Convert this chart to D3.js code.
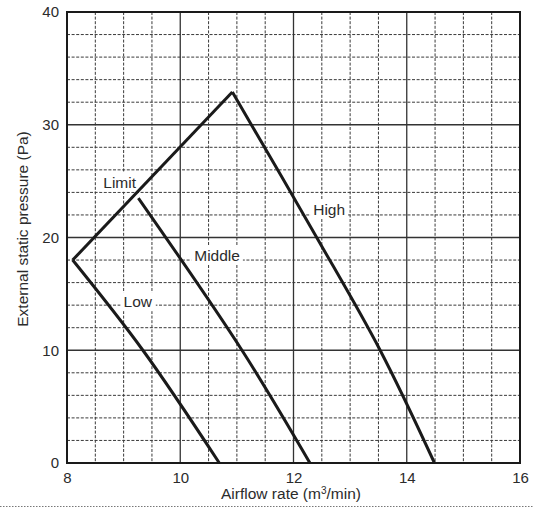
<!DOCTYPE html>
<html>
<head>
<meta charset="utf-8">
<script src="https://cdn.jsdelivr.net/npm/d3@7/dist/d3.min.js"></script>
<style>
  body { margin: 0; background: #fff; }
  text { font-family: "Liberation Sans", Arial, sans-serif; fill: #2b2b2b; }
</style>
</head>
<body>
<div id="chart"></div>
<script>
// tick values
var xTicks = [8, 10, 12, 14, 16];
var yTicks = [0, 10, 20, 30, 40];
var xMinor = [8.5, 9, 9.5, 10.5, 11, 11.5, 12.5, 13, 13.5, 14.5, 15, 15.5];
var yMinor = [2, 4, 6, 8, 12, 14, 16, 18, 22, 24, 26, 28, 32, 34, 36, 38];

// fan curves [airflow, pressure]
var limitLine = [[8.1, 18], [10.92, 32.9]];
var highLine = [[10.92, 32.9], [12.41, 20], [13.53, 10], [14.49, 0]];
var middleLine = [[9.26, 23.5], [11.09, 10], [12.29, 0]];
var lowLine = [[8.1, 18], [9.34, 10], [10.69, 0]];

// curve labels [text, airflow, pressure]
var labels = [
    ["Limit", 8.93, 24.9],
    ["Middle", 10.65, 18.4],
    ["Low", 9.25, 14.3],
    ["High", 12.63, 22.5]
];

var W = 533, H = 508;
var pL = 67, pT = 12, pR = 520, pB = 463;

var svg = d3.select("#chart").append("svg")
    .attr("width", W)
    .attr("height", H);

var x = d3.scaleLinear().domain([8, 16]).range([pL, pR]);
var y = d3.scaleLinear().domain([0, 40]).range([pB, pT]);

// minor grid (dashed)
svg.append("g").selectAll("line")
    .data(xMinor)
    .enter().append("line")
    .attr("x1", d => x(d)).attr("x2", d => x(d))
    .attr("y1", pT).attr("y2", pB)
    .attr("stroke", "#3a3a3a").attr("stroke-width", 1)
    .attr("stroke-dasharray", "3,1.6");

svg.append("g").selectAll("line")
    .data(yMinor)
    .enter().append("line")
    .attr("y1", d => y(d)).attr("y2", d => y(d))
    .attr("x1", pL).attr("x2", pR)
    .attr("stroke", "#3a3a3a").attr("stroke-width", 1)
    .attr("stroke-dasharray", "3,1.6");

// major grid (solid)
svg.append("g").selectAll("line")
    .data(xTicks)
    .enter().append("line")
    .attr("x1", d => x(d)).attr("x2", d => x(d))
    .attr("y1", pT).attr("y2", pB)
    .attr("stroke", "#333").attr("stroke-width", 1.3);

svg.append("g").selectAll("line")
    .data(yTicks)
    .enter().append("line")
    .attr("y1", d => y(d)).attr("y2", d => y(d))
    .attr("x1", pL).attr("x2", pR)
    .attr("stroke", "#333").attr("stroke-width", 1.3);

// frame
svg.append("rect")
    .attr("x", pL).attr("y", pT)
    .attr("width", pR - pL).attr("height", pB - pT)
    .attr("fill", "none")
    .attr("stroke", "#1a1a1a").attr("stroke-width", 2);

// label boxes sit under the curves
var lab = svg.append("g").selectAll("g")
    .data(labels)
    .enter().append("g")
    .attr("transform", d => "translate(" + x(d[1]) + "," + y(d[2]) + ")");

lab.append("text")
    .attr("text-anchor", "middle")
    .attr("dy", "0.35em")
    .attr("font-size", 15.5)
    .text(d => d[0]);

lab.each(function() {
    var g = d3.select(this);
    var bb = g.select("text").node().getBBox();
    g.insert("rect", "text")
        .attr("x", bb.x - 3).attr("y", bb.y - 1)
        .attr("width", bb.width + 6).attr("height", bb.height + 2)
        .attr("fill", "#fff");
});

// curves
var straight = d3.line()
    .x(d => x(d[0]))
    .y(d => y(d[1]));
var smooth = d3.line()
    .x(d => x(d[0]))
    .y(d => y(d[1]))
    .curve(d3.curveCatmullRom.alpha(0.5));

svg.append("path")
    .datum(limitLine)
    .attr("d", straight)
    .attr("class", "curve");

svg.selectAll("path.fan")
    .data([highLine, middleLine, lowLine])
    .enter().append("path")
    .attr("class", "curve")
    .attr("d", smooth);

svg.selectAll("path.curve")
    .attr("fill", "none")
    .attr("stroke", "#1a1a1a")
    .attr("stroke-width", 3)
    .attr("stroke-linejoin", "miter");

// tick labels
var xAxis = svg.append("g")
    .attr("transform", "translate(0," + pB + ")")
    .call(d3.axisBottom(x).tickValues(xTicks).tickSize(0).tickPadding(9));
xAxis.select(".domain").remove();
xAxis.selectAll("text")
    .attr("font-size", 15)
    .attr("font-family", "Liberation Sans, Arial, sans-serif")
    .attr("fill", "#2b2b2b");

var yAxis = svg.append("g")
    .attr("transform", "translate(" + pL + ",0)")
    .call(d3.axisLeft(y).tickValues(yTicks).tickSize(0).tickPadding(8));
yAxis.select(".domain").remove();
yAxis.selectAll("text")
    .attr("font-size", 15)
    .attr("font-family", "Liberation Sans, Arial, sans-serif")
    .attr("fill", "#2b2b2b");

// axis titles
var xTitle = svg.append("text")
    .attr("x", 291)
    .attr("y", 499)
    .attr("text-anchor", "middle")
    .attr("font-size", 15.5);
xTitle.append("tspan").text("Airflow rate (m");
xTitle.append("tspan").attr("font-size", 10).attr("dy", -5).text("3");
xTitle.append("tspan").attr("dy", 5).text("/min)");

svg.append("text")
    .attr("transform", "translate(28,229) rotate(-90)")
    .attr("text-anchor", "middle")
    .attr("font-size", 15.5)
    .text("External static pressure (Pa)");

// dotted rule under the chart
svg.append("line")
    .attr("x1", 0).attr("x2", W)
    .attr("y1", 506.5).attr("y2", 506.5)
    .attr("stroke", "#777")
    .attr("stroke-width", 1)
    .attr("stroke-dasharray", "1.5,1.5");
</script>
</body>
</html>
